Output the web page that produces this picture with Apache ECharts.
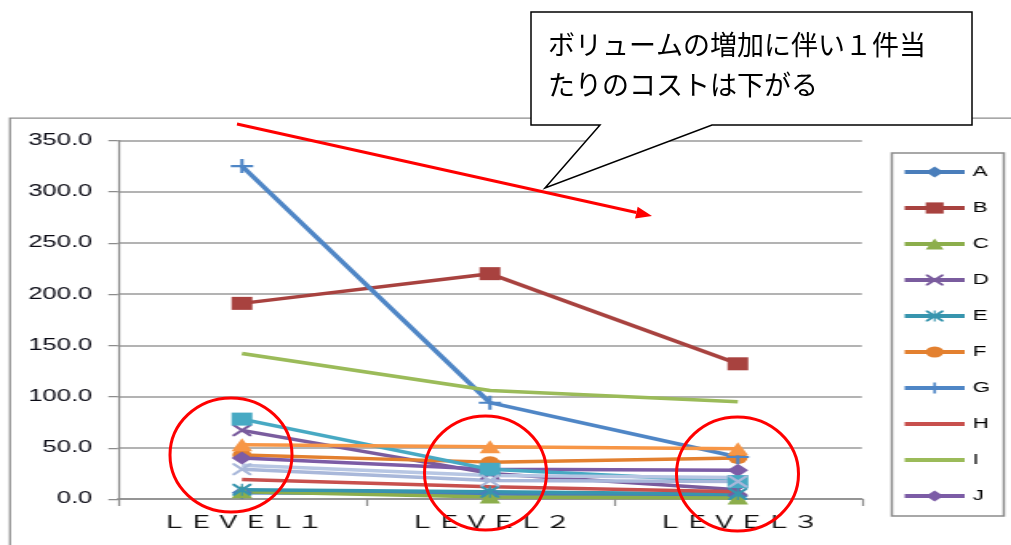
<!DOCTYPE html>
<html>
<head>
<meta charset="utf-8">
<script src="https://cdn.jsdelivr.net/npm/echarts@6/dist/echarts.min.js"></script>
<style>
  html, body { margin: 0; padding: 0; background: #fff; overflow: hidden; }
  #wrap { position: relative; width: 1011px; height: 545px; overflow: hidden; background: #fff; }
  /* the chart is laid out narrow and widened, as in the pasted worksheet chart */
  #chart { position: absolute; left: 0; top: 0; width: 632px; height: 545px;
           transform-origin: 0 0; transform: scaleX(1.5997); }
  #notes { position: absolute; left: 0; top: 0; width: 1011px; height: 545px; pointer-events: none; }
</style>
</head>
<body>
<div id="wrap">
  <div id="chart"></div>
  <div id="notes"></div>
</div>
<script>
// ---- data ----
const categories = ['ＬＥＶＥＬ１', 'ＬＥＶＥＬ２', 'ＬＥＶＥＬ３'];
const yMin = 0;
const yMax = 350;
const yStep = 50;
const legendNames = ['A', 'B', 'C', 'D', 'E', 'F', 'G', 'H', 'I', 'J'];

const valuesA = [6, 5, 3];
const valuesB = [191, 220, 132];
const valuesC = [7, 2, 1];
const valuesD = [67, 25, 9];
const valuesE = [9, 7, 5];
const valuesF = [43, 36, 40];
const valuesG = [325, 94, 41];
const valuesH = [19, 12, 7];
const valuesI = [142, 106, 95];
const valuesJ = [40, 29, 28];
const valuesK = [78, 29, 17];
const valuesL = [53, 51, 49];
const valuesM = [29, 18, 17];
const valuesN = [33, 23, 21];

// ---- marker shapes ----
const SYM_X = 'path://M0,0L2.5,0L10,7.5L17.5,0L20,0L20,2.5L12.5,10L20,17.5L20,20L17.5,20L10,12.5L2.5,20L0,20L0,17.5L7.5,10L0,2.5Z';
const SYM_STAR = SYM_X + 'M9,0L11,0L11,20L9,20Z';
const SYM_PLUS = 'path://M8.5,0L11.5,0L11.5,8.5L20,8.5L20,11.5L11.5,11.5L11.5,20L8.5,20L8.5,11.5L0,11.5L0,8.5L8.5,8.5Z';

const seriesDefs = [
  { name: 'A', data: valuesA, color: '#4A7EBB', symbol: 'diamond', size: 13 },
  { name: 'B', data: valuesB, color: '#A8423F', symbol: 'rect', size: 13 },
  { name: 'C', data: valuesC, color: '#8CAE4C', symbol: 'triangle', size: 13 },
  { name: 'D', data: valuesD, color: '#7A5C9E', symbol: SYM_X, size: 12 },
  { name: 'E', data: valuesE, color: '#3795AE', symbol: SYM_STAR, size: 12 },
  { name: 'F', data: valuesF, color: '#E3802F', symbol: 'circle', size: 12 },
  { name: 'G', data: valuesG, color: '#4F86C6', symbol: SYM_PLUS, size: 14 },
  { name: 'H', data: valuesH, color: '#C8504D', symbol: 'none', size: 0 },
  { name: 'I', data: valuesI, color: '#9BBB59', symbol: 'none', size: 0 },
  { name: 'J', data: valuesJ, color: '#7C5CA6', symbol: 'diamond', size: 13 },
  { name: 'K', data: valuesK, color: '#47A9C3', symbol: 'rect', size: 13 },
  { name: 'L', data: valuesL, color: '#F79646', symbol: 'triangle', size: 13 },
  { name: 'M', data: valuesM, color: '#A9B8DA', symbol: SYM_X, size: 12 },
  { name: 'N', data: valuesN, color: '#B7C6E3', symbol: 'none', size: 0 }
];

const chart = echarts.init(document.getElementById('chart'), null, { renderer: 'canvas' });

const legendData = legendNames.map(function (n) {
  const def = seriesDefs.find(function (d) { return d.name === n; });
  return def.symbol === 'none' ? { name: n, itemStyle: { opacity: 0 } } : { name: n };
});

chart.setOption({
  animation: false,
  backgroundColor: '#fff',
  grid: { left: 73.75, right: 93.25, top: 140.5, bottom: 46, containLabel: false },
  legend: {
    data: legendData,
    orient: 'vertical',
    left: 557.5,
    top: 153,
    padding: [12, 5, 12, 6],
    itemWidth: 37.5,
    itemHeight: 14,
    itemGap: 22,
    selectedMode: false,
    lineStyle: { width: 4 },
    textStyle: { fontFamily: 'Liberation Sans, Arial, sans-serif', fontSize: 14, color: '#000' }
  },
  xAxis: {
    type: 'category',
    data: categories,
    boundaryGap: true,
    axisLine: { show: true, lineStyle: { color: '#8c8c8c', width: 1.5 } },
    axisTick: { show: true, length: 7, alignWithLabel: false, lineStyle: { color: '#8c8c8c', width: 1.25 } },
    axisLabel: { margin: 14, fontFamily: "'Noto Sans CJK JP', sans-serif", fontSize: 17, color: '#111' },
    splitLine: { show: false }
  },
  yAxis: {
    type: 'value',
    min: yMin,
    max: yMax,
    interval: yStep,
    axisLine: { show: true, lineStyle: { color: '#8c8c8c', width: 1.25 } },
    axisTick: { show: true, length: 6, lineStyle: { color: '#8c8c8c', width: 1.25 } },
    axisLabel: {
      margin: 16,
      fontFamily: 'Liberation Sans, Arial, sans-serif',
      fontSize: 16,
      color: '#0a0a14',
      formatter: function (v) { return v.toFixed(1); }
    },
    splitLine: { show: true, lineStyle: { color: '#9a9a9a', width: 1.5 } }
  },
  graphic: [
    { type: 'rect', silent: true, z: -1,
      shape: { x: 6.25, y: 118, width: 700, height: 500 },
      style: { fill: 'none', stroke: '#8c8c8c', lineWidth: 1.25 } },
    { type: 'rect', silent: true,
      shape: { x: 557.5, y: 153, width: 70, height: 363 },
      style: { fill: 'none', stroke: '#8c8c8c', lineWidth: 1.5 } }
  ],
  series: seriesDefs.map(function (d) {
    return {
      name: d.name,
      type: 'line',
      data: d.data,
      symbol: d.symbol,
      symbolSize: d.size,
      showSymbol: d.symbol !== 'none',
      lineStyle: { color: d.color, width: 3.5 },
      itemStyle: { color: d.color },
      emphasis: { disabled: true },
      silent: true
    };
  })
});

// ---- callout, arrow and rings drawn over the chart ----
const notes = echarts.init(document.getElementById('notes'), null, { renderer: 'canvas' });

const tip = [652, 216];
const tail = [237, 124];
const len = Math.hypot(tip[0] - tail[0], tip[1] - tail[1]);
const ux = (tip[0] - tail[0]) / len, uy = (tip[1] - tail[1]) / len;
const headLen = 16, headHalf = 6;
const bx = tip[0] - ux * headLen, by = tip[1] - uy * headLen;

const ringStyle = { fill: 'none', stroke: '#ff0000', lineWidth: 3 };

notes.setOption({
  animation: false,
  backgroundColor: 'transparent',
  graphic: [
    { type: 'polygon', silent: true,
      shape: { points: [[531, 12], [972, 12], [972, 125], [712, 125], [545, 188], [600, 125], [531, 125]] },
      style: { fill: '#fff', stroke: '#000', lineWidth: 1.5 } },
    { type: 'text', silent: true,
      style: { text: 'ボリュームの増加に伴い１件当', x: 548, y: 45, verticalAlign: 'middle',
               font: "27px 'Noto Sans CJK JP', sans-serif", fill: '#000' } },
    { type: 'text', silent: true,
      style: { text: 'たりのコストは下がる', x: 548, y: 85, verticalAlign: 'middle',
               font: "27px 'Noto Sans CJK JP', sans-serif", fill: '#000' } },
    { type: 'line', silent: true,
      shape: { x1: tail[0], y1: tail[1], x2: bx, y2: by },
      style: { stroke: '#ff0000', lineWidth: 3 } },
    { type: 'polygon', silent: true,
      shape: { points: [tip, [bx - uy * headHalf, by + ux * headHalf], [bx + uy * headHalf, by - ux * headHalf]] },
      style: { fill: '#ff0000' } },
    { type: 'ellipse', silent: true, shape: { cx: 231, cy: 455, rx: 61, ry: 57 }, style: ringStyle },
    { type: 'ellipse', silent: true, shape: { cx: 485.5, cy: 473, rx: 61, ry: 57 }, style: ringStyle },
    { type: 'ellipse', silent: true, shape: { cx: 737.5, cy: 474, rx: 61, ry: 57 }, style: ringStyle }
  ]
});
</script>
</body>
</html>
